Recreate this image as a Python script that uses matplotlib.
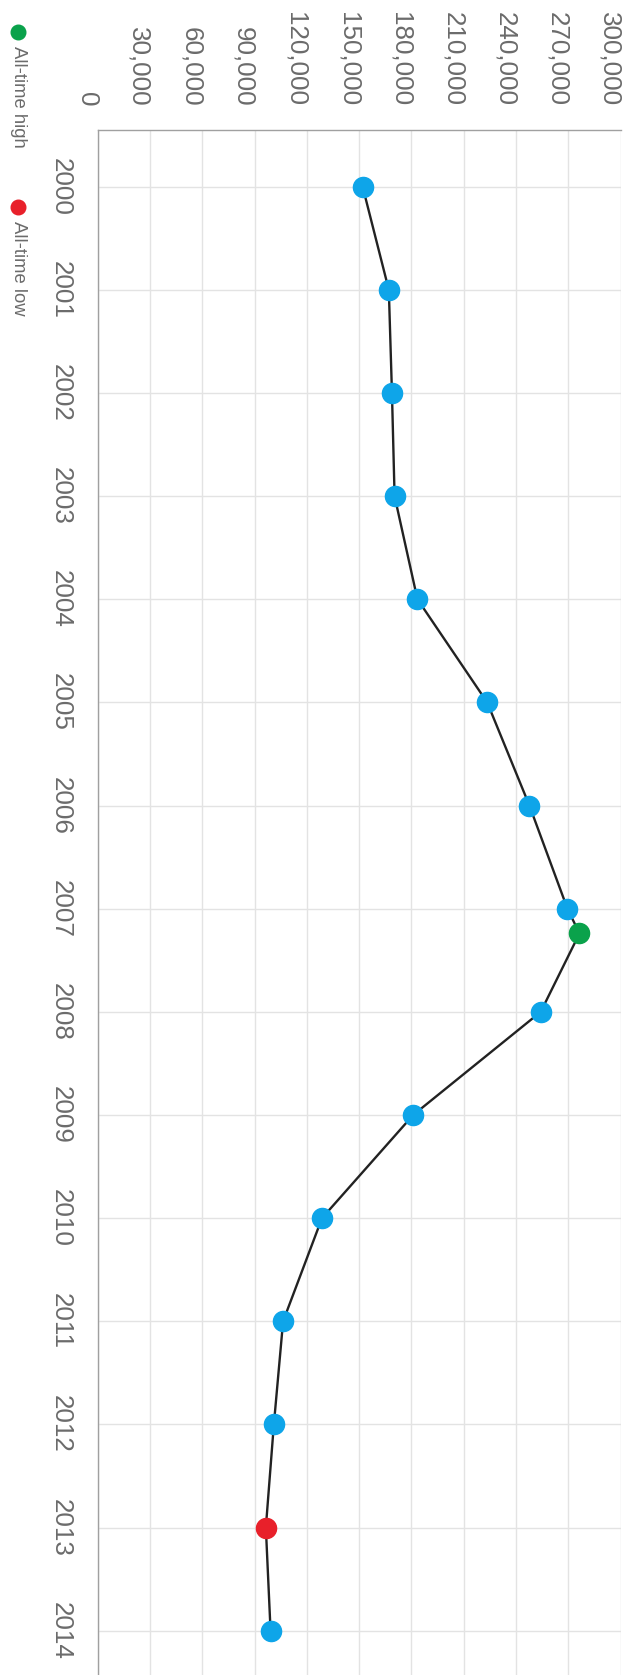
import matplotlib
matplotlib.use("Agg")
from matplotlib import pyplot as plt
from matplotlib.lines import Line2D
from matplotlib.ticker import FuncFormatter
from matplotlib.transforms import ScaledTranslation

plt.rcParams['font.family'] = ['Liberation Sans', 'DejaVu Sans']

years = [2000, 2001, 2002, 2003, 2004, 2005, 2006, 2007, 2007.24,
         2008, 2009, 2010, 2011, 2012, 2013, 2014]
values = [152000, 167000, 168800, 170300, 183400, 223400, 247600, 269400, 276300,
          254100, 181000, 128700, 106400, 101100, 96500, 99200]
high_idx = 8
low_idx = 14
year_ticks = list(range(2000, 2015))
value_ticks = list(range(0, 300001, 30000))
legend_labels = ["All-time high", "All-time low"]

blue = "#0ea5e9"
green = "#0aa24b"
red = "#e8202a"
grey_txt = "#6b6b6b"

fig = plt.figure(figsize=(6.32, 16.75), dpi=100)
ax = fig.add_axes([0.1543, 0.0, 0.828, 0.9224])

ax.plot(values, years, color="#222222", lw=1.7, zorder=2)
for i, (v, y) in enumerate(zip(values, years)):
    c = blue
    if i == high_idx:
        c = green
    elif i == low_idx:
        c = red
    ax.plot(v, y, "o", ms=14.5, color=c, mec=c, zorder=3)

ax.set_xlim(0, 300000)
ax.set_ylim(2014.43, 1999.45)
ax.xaxis.tick_top()
ax.set_xticks(value_ticks)
ax.xaxis.set_major_formatter(FuncFormatter(lambda v, p: "{:,.0f}".format(v)))
ax.set_yticks(year_ticks)
ax.set_yticklabels([str(y) for y in year_ticks])
ax.tick_params(axis="both", length=0, labelsize=18.7, labelcolor=grey_txt)
ax.tick_params(axis="x", pad=17)
ax.tick_params(axis="y", pad=18)
shift = ScaledTranslation(-11 / 100, 0, fig.dpi_scale_trans)
for t in ax.get_xticklabels():
    t.set_rotation(-90)
    t.set_ha("center")
    t.set_va("bottom")
    t.set_transform(t.get_transform() + shift)
plt.setp(ax.get_yticklabels(), rotation=-90, ha="right", va="center")

ax.grid(True, color="#e3e3e3", lw=1.0)
ax.set_axisbelow(True)
for s in ["right", "bottom"]:
    ax.spines[s].set_visible(False)
for s in ["left", "top"]:
    ax.spines[s].set_color("#a0a0a0")
    ax.spines[s].set_linewidth(1.0)

# legend, drawn rotated like the rest of the chart
leg_colors = [green, red]
leg_y = [1 - 32 / 1675, 1 - 207 / 1675]
for lab, c, yy in zip(legend_labels, leg_colors, leg_y):
    fig.add_artist(Line2D([18 / 632], [yy], marker="o", ms=10.5, color=c,
                          transform=fig.transFigure))
    fig.text(18 / 632, yy - 14 / 1675, lab, rotation=-90, ha="center", va="top",
             fontsize=13.3, color=grey_txt)

plt.savefig("out.png", dpi=100)
